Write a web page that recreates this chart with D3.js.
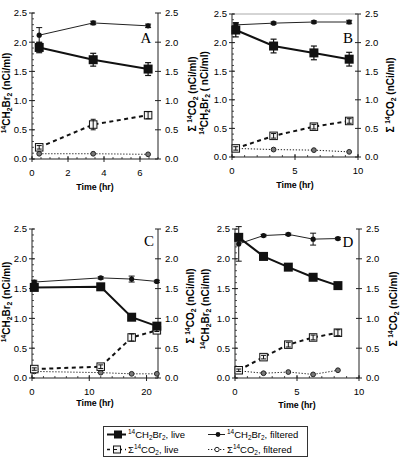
<!DOCTYPE html>
<html><head><meta charset="utf-8">
<script src="https://cdn.jsdelivr.net/npm/d3@7"></script>
<style>html,body{margin:0;padding:0;background:#fff;}svg{display:block;}</style>
</head><body>
<svg id="chart" width="400" height="467"></svg>
<script>
// ---------------- DATA ----------------
const yTickValues = [0, 0.5, 1.0, 1.5, 2.0, 2.5];
const yTickLabels = ["0.0", "0.5", "1.0", "1.5", "2.0", "2.5"];

const panelLetters = ["A", "B", "C", "D"];
const xTicksA = [0, 2, 4, 6];
const xTicksB = [0, 5, 10];
const xTicksC = [0, 10, 20];
const xTicksD = [0, 5, 10];

const timeA = [0.4, 3.4, 6.45];
const liveBrA = [1.91, 1.70, 1.54];
const liveBrErrA = [0.09, 0.11, 0.11];
const filtBrA = [2.12, 2.33, 2.28];
const filtBrErrA = [0.13, 0.03, 0.03];
const liveCO2A = [0.20, 0.59, 0.75];
const liveCO2ErrA = [0.03, 0.09, 0.06];
const filtCO2A = [0.09, 0.09, 0.08];

const timeB = [0.3, 3.3, 6.5, 9.3];
const liveBrB = [2.22, 1.94, 1.82, 1.71];
const liveBrErrB = [0.12, 0.12, 0.12, 0.12];
const filtBrB = [2.31, 2.34, 2.36, 2.36];
const filtBrErrB = [0.04, 0.02, 0.02, 0.03];
const liveCO2B = [0.15, 0.37, 0.53, 0.63];
const liveCO2ErrB = [0.03, 0.04, 0.04, 0.04];
const filtCO2B = [0.15, 0.13, 0.12, 0.09];

const timeC = [0.4, 12, 17.4, 21.8];
const liveBrC = [1.52, 1.53, 1.02, 0.87];
const liveBrErrC = [0.03, 0.03, 0.04, 0.03];
const filtBrC = [1.61, 1.68, 1.66, 1.62];
const filtBrErrC = [0.03, 0.02, 0.05, 0.02];
const liveCO2C = [0.15, 0.19, 0.68, 0.80];
const liveCO2ErrC = [0.02, 0.03, 0.06, 0.02];
const filtCO2C = [0.11, 0.09, 0.07, 0.07];

const timeD = [0.3, 2.3, 4.3, 6.3, 8.3];
const liveBrD = [2.36, 2.04, 1.86, 1.69, 1.55];
const liveBrErrD = [0.03, 0.03, 0.03, 0.03, 0.03];
const filtBrD = [2.25, 2.39, 2.41, 2.33, 2.34];
const filtBrErrD = [0.29, 0.02, 0.02, 0.10, 0.02];
const liveCO2D = [0.13, 0.35, 0.56, 0.68, 0.76];
const liveCO2ErrD = [0.02, 0.03, 0.04, 0.04, 0.05];
const filtCO2D = [0.12, 0.08, 0.10, 0.06, 0.13];

// ---------------- LAYOUT ----------------
const SANS = "'Liberation Sans', Arial, Helvetica, sans-serif";
const SERIF = "'Liberation Serif', 'Times New Roman', serif";
const svg = d3.select("#chart");

const panels = [
  {time: timeA, lb: liveBrA, lbe: liveBrErrA, fb: filtBrA, fbe: filtBrErrA, lc: liveCO2A, lce: liveCO2ErrA, fc: filtCO2A,
   xt: xTicksA, xmax: 7, minor: 0.5, x0: 32, x1: 158, y0: 159, y1: 13, letter: [146, 43],
   yl: [10, 93], yr: [196, 94], tl: 189.5, top: false, leftSpace: false},
  {time: timeB, lb: liveBrB, lbe: liveBrErrB, fb: filtBrB, fbe: filtBrErrB, lc: liveCO2B, lce: liveCO2ErrB, fc: filtCO2B,
   xt: xTicksB, xmax: 10, minor: 1, x0: 232, x1: 358, y0: 157, y1: 14, letter: [348, 43],
   yl: [208, 93], yr: [394, 95], tl: 187.5, top: true, leftSpace: true},
  {time: timeC, lb: liveBrC, lbe: liveBrErrC, fb: filtBrC, fbe: filtBrErrC, lc: liveCO2C, lce: liveCO2ErrC, fc: filtCO2C,
   xt: xTicksC, xmax: 22, minor: 2, x0: 32, x1: 158, y0: 378, y1: 229, letter: [149, 246],
   yl: [10, 302], yr: [194, 306], tl: 406, top: false, leftSpace: false},
  {time: timeD, lb: liveBrD, lbe: liveBrErrD, fb: filtBrD, fbe: filtBrErrD, lc: liveCO2D, lce: liveCO2ErrD, fc: filtCO2D,
   xt: xTicksD, xmax: 10, minor: 1, x0: 235, x1: 359, y0: 378, y1: 229, letter: [348, 247],
   yl: [209, 309], yr: [397, 309], tl: 408, top: false, leftSpace: false}
];

function richText(sel, parts, size) {
  let shift = 0;
  parts.forEach(([t, m]) => {
    const target = m === "sup" ? -0.38 * size : m === "sub" ? 0.22 * size : 0;
    sel.append("tspan")
      .attr("dy", (target - shift).toFixed(2))
      .attr("font-size", m === "n" ? size : size * 0.68)
      .text(t);
    shift = target;
  });
}

function drawSquare(g, cx, cy, s, fill) {
  g.append("rect").attr("x", cx - s / 2).attr("y", cy - s / 2).attr("width", s).attr("height", s)
    .attr("fill", fill).attr("stroke", "#111").attr("stroke-width", 1);
}

function errBar(g, cx, ytop, ybot, cap, w) {
  g.append("line").attr("x1", cx).attr("x2", cx).attr("y1", ytop).attr("y2", ybot).attr("stroke", "#111").attr("stroke-width", w);
  g.append("line").attr("x1", cx - cap).attr("x2", cx + cap).attr("y1", ytop).attr("y2", ytop).attr("stroke", "#111").attr("stroke-width", w);
  g.append("line").attr("x1", cx - cap).attr("x2", cx + cap).attr("y1", ybot).attr("y2", ybot).attr("stroke", "#111").attr("stroke-width", w);
}

panels.forEach((p, i) => {
  const g = svg.append("g");
  const x = d3.scaleLinear().domain([0, p.xmax]).range([p.x0, p.x1]);
  const y = d3.scaleLinear().domain([0, 2.5]).range([p.y0, p.y1]);

  const axC = "#222";
  g.append("line").attr("x1", p.x0).attr("x2", p.x0).attr("y1", p.y0).attr("y2", p.y1).attr("stroke", axC);
  g.append("line").attr("x1", p.x1).attr("x2", p.x1).attr("y1", p.y0).attr("y2", p.y1).attr("stroke", axC);
  g.append("line").attr("x1", p.x0).attr("x2", p.x1).attr("y1", p.y0).attr("y2", p.y0).attr("stroke", axC);
  if (p.top) g.append("line").attr("x1", p.x0).attr("x2", p.x1).attr("y1", p.y1).attr("y2", p.y1).attr("stroke", "#aaa");

  d3.range(0, 2.5001, 0.1).forEach(v => {
    g.append("line").attr("x1", p.x0).attr("x2", p.x0 + 2).attr("y1", y(v)).attr("y2", y(v)).attr("stroke", axC).attr("stroke-width", 0.8);
  });
  yTickValues.forEach((v, k) => {
    g.append("line").attr("x1", p.x0 - 3).attr("x2", p.x0 + 3).attr("y1", y(v)).attr("y2", y(v)).attr("stroke", axC);
    g.append("line").attr("x1", p.x1 - 3).attr("x2", p.x1 + 3).attr("y1", y(v)).attr("y2", y(v)).attr("stroke", axC);
    g.append("text").attr("x", p.x0 - 5).attr("y", y(v) + 3.4).attr("text-anchor", "end")
      .attr("font-family", SANS).attr("font-size", 9.5).text(yTickLabels[k]);
    g.append("text").attr("x", p.x1 + 7).attr("y", y(v) + 3.4).attr("text-anchor", "start")
      .attr("font-family", SANS).attr("font-size", 9.5).text(yTickLabels[k]);
  });
  d3.range(0, p.xmax + 1e-6, p.minor).forEach(v => {
    g.append("line").attr("x1", x(v)).attr("x2", x(v)).attr("y1", p.y0).attr("y2", p.y0 - 2).attr("stroke", axC).attr("stroke-width", 0.8);
  });
  p.xt.forEach(v => {
    g.append("line").attr("x1", x(v)).attr("x2", x(v)).attr("y1", p.y0 - 3).attr("y2", p.y0 + 3).attr("stroke", axC);
    g.append("text").attr("x", x(v)).attr("y", p.y0 + 16.7).attr("text-anchor", "middle")
      .attr("font-family", SANS).attr("font-size", 9.5).text(v);
  });
  g.append("text").attr("x", (p.x0 + p.x1) / 2).attr("y", p.tl).attr("text-anchor", "middle")
    .attr("font-family", SANS).attr("font-weight", "bold").attr("font-size", 8.8).text("Time (hr)");
  const tL = g.append("text").attr("transform", `translate(${p.yl[0]},${p.yl[1]}) rotate(-90)`)
    .attr("text-anchor", "middle").attr("font-family", SANS).attr("font-weight", "bold");
  richText(tL, [["14", "sup"], ["CH", "n"], ["2", "sub"], ["Br", "n"], ["2", "sub"], [p.leftSpace ? " ( nCi/ml)" : " (nCi/ml)", "n"]], 10);
  const tR = g.append("text").attr("transform", `translate(${p.yr[0]},${p.yr[1]}) rotate(-90)`)
    .attr("text-anchor", "middle").attr("font-family", SANS).attr("font-weight", "bold");
  richText(tR, [["Σ ", "n"], ["14", "sup"], ["CO", "n"], ["2", "sub"], [" (nCi/ml)", "n"]], 10);

  g.append("text").attr("x", p.letter[0]).attr("y", p.letter[1]).attr("text-anchor", "middle")
    .attr("font-family", SERIF).attr("font-size", 15).text(panelLetters[i]);

  const pts = arr => arr.map((v, k) => [x(p.time[k]), y(v)]);
  const line = d3.line();

  g.append("path").attr("d", line(pts(p.fc))).attr("fill", "none").attr("stroke", "#222").attr("stroke-width", 1).attr("stroke-dasharray", "1.3,1.7");
  g.append("path").attr("d", line(pts(p.lc))).attr("fill", "none").attr("stroke", "#111").attr("stroke-width", 2).attr("stroke-dasharray", "4,3.5");
  g.append("path").attr("d", line(pts(p.fb))).attr("fill", "none").attr("stroke", "#222").attr("stroke-width", 1);
  g.append("path").attr("d", line(pts(p.lb))).attr("fill", "none").attr("stroke", "#111").attr("stroke-width", 2);

  p.fc.forEach((v, k) => {
    g.append("circle").attr("cx", x(p.time[k])).attr("cy", y(v)).attr("r", 2.4)
      .attr("fill", "#777").attr("stroke", "#222").attr("stroke-width", 1);
  });
  p.lc.forEach((v, k) => {
    drawSquare(g, x(p.time[k]), y(v), 7.5, "#f4f4f4");
    errBar(g, x(p.time[k]), y(v + p.lce[k]), y(v - p.lce[k]), 2.5, 1);
  });
  p.fb.forEach((v, k) => {
    errBar(g, x(p.time[k]), y(v + p.fbe[k]), y(v - p.fbe[k]), 3, 1);
    g.append("circle").attr("cx", x(p.time[k])).attr("cy", y(v)).attr("r", 2.6).attr("fill", "#111");
  });
  p.lb.forEach((v, k) => {
    errBar(g, x(p.time[k]), y(v + p.lbe[k]), y(v - p.lbe[k]), 3, 1.2);
    g.append("rect").attr("x", x(p.time[k]) - 4.5).attr("y", y(v) - 4.5).attr("width", 9).attr("height", 9).attr("fill", "#111");
  });
});

// ---------------- LEGEND ----------------
const lg = svg.append("g");
lg.append("rect").attr("x", 103.5).attr("y", 426.5).attr("width", 204).attr("height", 30)
  .attr("fill", "#fff").attr("stroke", "#333").attr("stroke-width", 1);
const r1 = 434.5, r2 = 449.5;
lg.append("line").attr("x1", 107).attr("x2", 126).attr("y1", r1).attr("y2", r1).attr("stroke", "#111").attr("stroke-width", 2);
lg.append("rect").attr("x", 114).attr("y", r1 - 4).attr("width", 8).attr("height", 8).attr("fill", "#111");
lg.append("line").attr("x1", 107).attr("x2", 126).attr("y1", r2).attr("y2", r2).attr("stroke", "#111").attr("stroke-width", 1.5).attr("stroke-dasharray", "3,3");
drawSquare(lg, 117, r2, 7, "#f4f4f4");
lg.append("line").attr("x1", 114).attr("x2", 117).attr("y1", r2).attr("y2", r2).attr("stroke", "#111").attr("stroke-width", 1);
lg.append("line").attr("x1", 208).attr("x2", 225).attr("y1", r1).attr("y2", r1).attr("stroke", "#222").attr("stroke-width", 1);
lg.append("circle").attr("cx", 218).attr("cy", r1).attr("r", 2.4).attr("fill", "#111");
lg.append("line").attr("x1", 208).attr("x2", 225).attr("y1", r2).attr("y2", r2).attr("stroke", "#222").attr("stroke-width", 1).attr("stroke-dasharray", "1.3,1.7");
lg.append("circle").attr("cx", 217).attr("cy", r2).attr("r", 2.2).attr("fill", "#fff").attr("stroke", "#222");

const legendItems = [
  {x: 128, y: r1 + 3.3, parts: [["14", "sup"], ["CH", "n"], ["2", "sub"], ["Br", "n"], ["2", "sub"], [", live", "n"]]},
  {x: 227, y: r1 + 3.3, parts: [["14", "sup"], ["CH", "n"], ["2", "sub"], ["Br", "n"], ["2", "sub"], [", filtered", "n"]]},
  {x: 128, y: r2 + 3.3, parts: [["Σ", "n"], ["14", "sup"], ["CO", "n"], ["2", "sub"], [", live", "n"]]},
  {x: 227, y: r2 + 3.3, parts: [["Σ", "n"], ["14", "sup"], ["CO", "n"], ["2", "sub"], [", filtered", "n"]]}
];
legendItems.forEach(it => {
  const t = lg.append("text").attr("x", it.x).attr("y", it.y).attr("font-family", SANS);
  richText(t, it.parts, 9.5);
});
</script>
</body></html>
